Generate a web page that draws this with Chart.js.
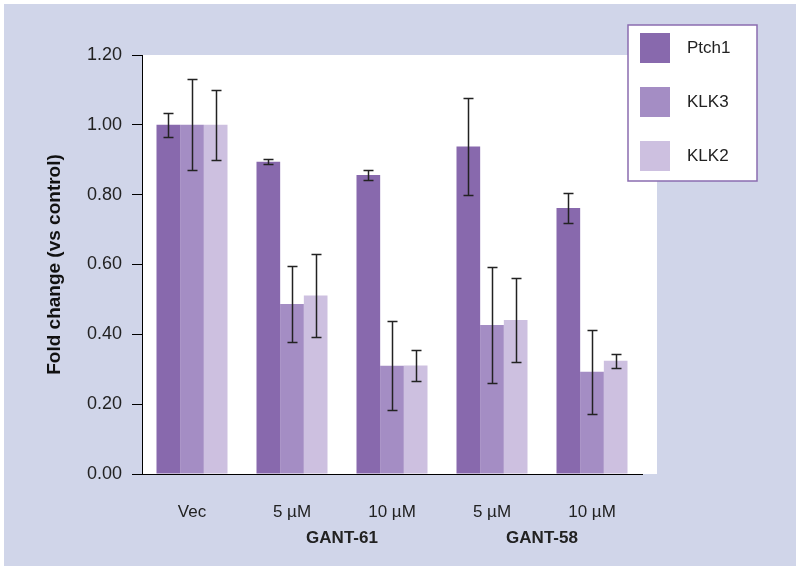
<!DOCTYPE html>
<html>
<head>
<meta charset="utf-8">
<script src="https://cdn.jsdelivr.net/npm/chart.js@4"></script>
<style>
  body { margin: 0; background: #ffffff; }
  #wrap { width: 800px; height: 570px; }
</style>
</head>
<body>
<div id="wrap"><canvas id="myChart" width="800" height="570"></canvas></div>
<script>
// data
var categories = ['Vec', '5 µM', '10 µM', '5 µM', '10 µM'];
var seriesNames = ['Ptch1', 'KLK3', 'KLK2'];
var ptch1 = [1.00, 0.894, 0.856, 0.938, 0.762];
var klk3 = [1.00, 0.487, 0.310, 0.427, 0.293];
var klk2 = [1.00, 0.511, 0.311, 0.441, 0.324];
var ptch1Err = [0.035, 0.007, 0.015, 0.140, 0.042];
var klk3Err = [0.130, 0.110, 0.127, 0.166, 0.120];
var klk2Err = [0.100, 0.120, 0.045, 0.120, 0.020];
var yTicks = [0, 0.2, 0.4, 0.6, 0.8, 1.0, 1.2];
var groupLabels = ['GANT-61', 'GANT-58'];
var groupSpans = [[1, 2], [3, 4]];

var colors = ['#8869ad', '#a48dc4', '#cdc0e0'];
var errs = [ptch1Err, klk3Err, klk2Err];
var font = '"Liberation Sans", Arial, sans-serif';

var backdrop = {
    id: 'backdrop',
    beforeDraw: function (chart) {
        var c = chart.ctx, a = chart.chartArea;
        c.save();
        c.fillStyle = '#ffffff';
        c.fillRect(0, 0, chart.width, chart.height);
        c.fillStyle = '#d0d5e9';
        c.fillRect(4, 4, chart.width - 8, chart.height - 8);
        c.fillStyle = '#ffffff';
        c.fillRect(a.left, a.top, a.right - a.left + 15, a.bottom - a.top);
        c.restore();
    },
    afterDatasetsDraw: function (chart) {
        var c = chart.ctx, ys = chart.scales.y;
        c.save();
        c.strokeStyle = '#222222';
        c.lineWidth = 1.5;
        chart.data.datasets.forEach(function (ds, i) {
            var meta = chart.getDatasetMeta(i);
            meta.data.forEach(function (bar, j) {
                var v = ds.data[j], e = errs[i][j];
                var t = Math.round(ys.getPixelForValue(v + e)) + 0.5;
                var b = Math.round(ys.getPixelForValue(v - e)) + 0.5;
                var x = Math.round(bar.x) + 0.5;
                c.beginPath();
                c.moveTo(x, t); c.lineTo(x, b);
                c.moveTo(x - 5, t); c.lineTo(x + 5, t);
                c.moveTo(x - 5, b); c.lineTo(x + 5, b);
                c.stroke();
            });
        });
        c.restore();
    },
    afterDraw: function (chart) {
        var c = chart.ctx, a = chart.chartArea, xs = chart.scales.x;
        c.save();
        // x axis line runs a little left of the y axis
        c.strokeStyle = '#000000';
        c.lineWidth = 1;
        c.beginPath();
        c.moveTo(a.left - 10, a.bottom + 0.5);
        c.lineTo(a.left, a.bottom + 0.5);
        c.stroke();
        // group labels
        c.fillStyle = '#222222';
        c.font = 'bold 17px ' + font;
        c.textAlign = 'center';
        c.textBaseline = 'middle';
        groupLabels.forEach(function (g, k) {
            var x = (xs.getPixelForValue(groupSpans[k][0]) + xs.getPixelForValue(groupSpans[k][1])) / 2;
            c.fillText(g, x, 538);
        });
        // legend box
        c.fillStyle = '#ffffff';
        c.fillRect(628, 25, 129, 156);
        c.strokeStyle = '#8a6cb0';
        c.lineWidth = 1.5;
        c.strokeRect(628, 25, 129, 156);
        c.font = '17px ' + font;
        c.textAlign = 'left';
        chart.data.datasets.forEach(function (ds, i) {
            var y = 33 + i * 54;
            c.fillStyle = ds.backgroundColor;
            c.fillRect(640, y, 30, 30);
            c.fillStyle = '#222222';
            c.fillText(ds.label, 687, y + 15);
        });
        c.restore();
    }
};

var ctx = document.getElementById('myChart');
var myChart = new Chart(ctx, {
    type: 'bar',
    data: {
        labels: categories,
        datasets: [
            { label: seriesNames[0], data: ptch1, backgroundColor: colors[0] },
            { label: seriesNames[1], data: klk3, backgroundColor: colors[1] },
            { label: seriesNames[2], data: klk2, backgroundColor: colors[2] }
        ]
    },
    options: {
        responsive: false,
        animation: false,
        devicePixelRatio: 1,
        layout: { padding: { top: 55, right: 158, left: 0, bottom: 0 } },
        datasets: { bar: { categoryPercentage: 0.71, barPercentage: 1.0, borderWidth: 0 } },
        plugins: { legend: { display: false }, tooltip: { enabled: false } },
        scales: {
            x: {
                grid: { display: false },
                border: { display: true, color: '#000000', width: 1 },
                ticks: { color: '#222222', font: { family: font, size: 17 }, padding: 20 },
                afterFit: function (s) { s.height = 96; }
            },
            y: {
                min: 0,
                max: 1.2,
                afterBuildTicks: function (s) { s.ticks = yTicks.map(function (v) { return { value: v }; }); },
                grid: { drawOnChartArea: false, color: '#000000', tickLength: 10 },
                border: { display: true, color: '#000000', width: 1 },
                ticks: {
                    color: '#222222',
                    font: { family: font, size: 18 },
                    padding: 10,
                    callback: function (v) { return v.toFixed(2); }
                },
                title: {
                    display: true,
                    text: 'Fold change (vs control)',
                    color: '#111111',
                    font: { family: font, size: 19, weight: 'bold' },
                    padding: { top: 43, bottom: 0 }
                },
                afterFit: function (s) { s.width = 142; }
            }
        }
    },
    plugins: [backdrop]
});
</script>
</body>
</html>
